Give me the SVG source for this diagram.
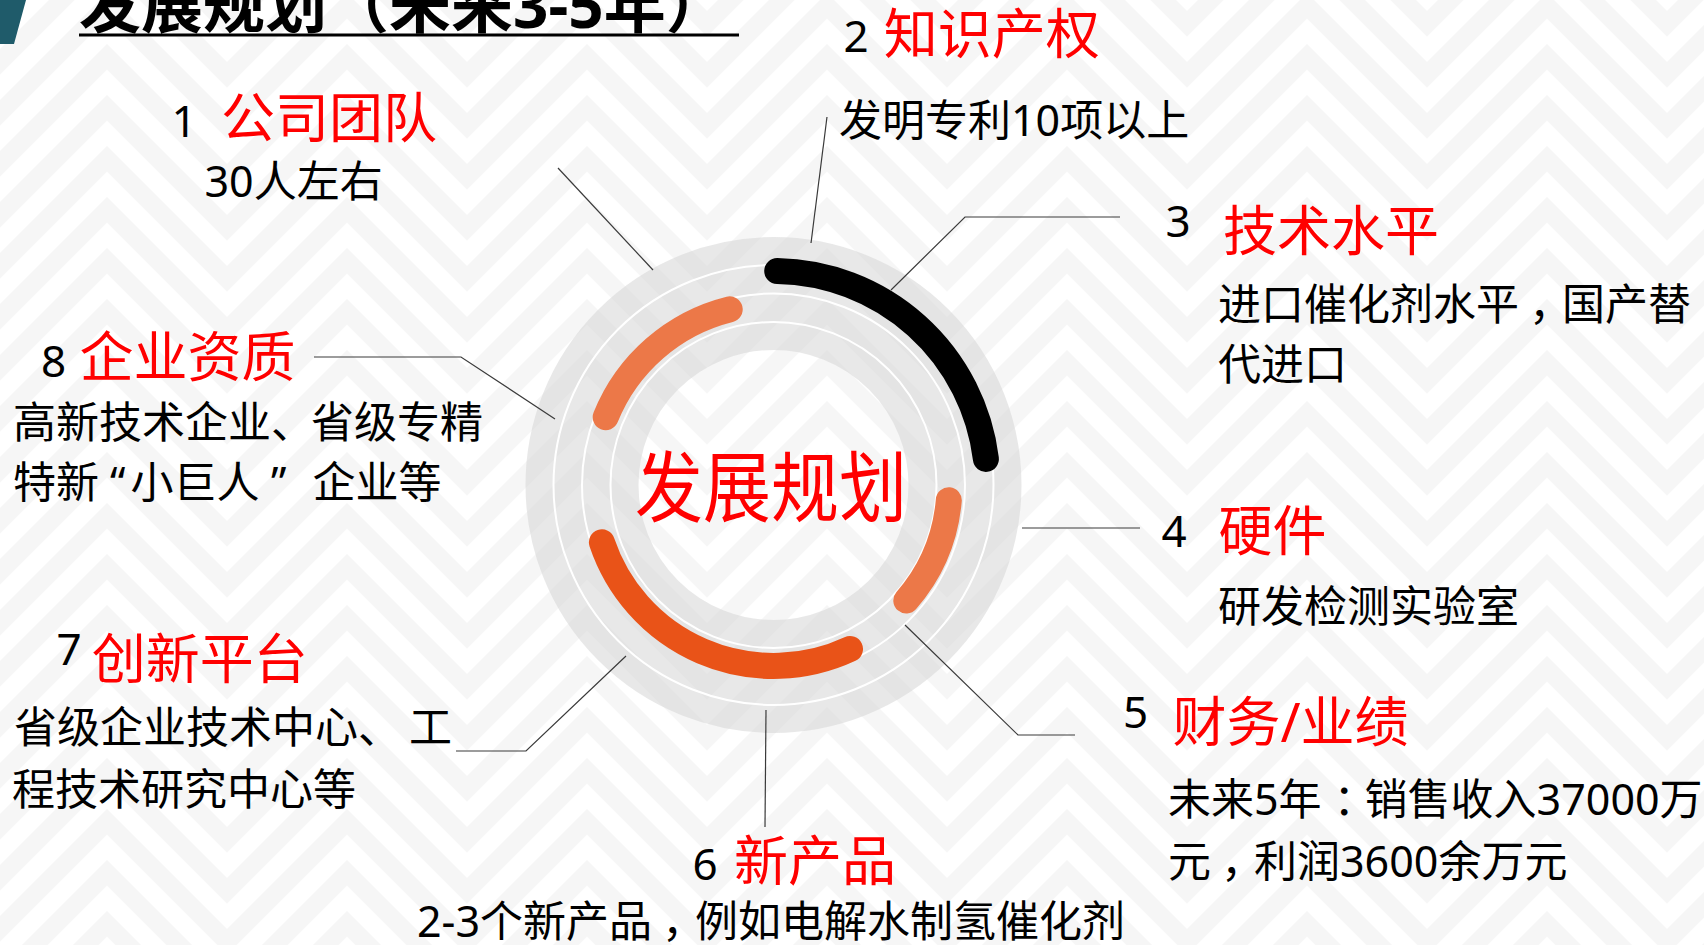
<svg xmlns="http://www.w3.org/2000/svg" width="1704" height="945" viewBox="0 0 1704 945">
<defs>
<pattern id="chev" patternUnits="userSpaceOnUse" x="-13" y="44" width="240" height="51">
<rect width="240" height="51" fill="#ffffff"/>
<path fill="#f6f6f6" d="M0 -33 L120 -153 L240 -33 L240 -7.5 L120 -127.5 L0 -7.5Z M0 18 L120 -102 L240 18 L240 43.5 L120 -76.5 L0 43.5Z M0 69 L120 -51 L240 69 L240 94.5 L120 -25.5 L0 94.5Z M0 120 L120 0 L240 120 L240 145.5 L120 25.5 L0 145.5Z M0 171 L120 51 L240 171 L240 196.5 L120 76.5 L0 196.5Z"/>
</pattern>
<style>
.f{font-family:"Noto Sans","Noto Sans CJK SC",sans-serif}
.num{font-size:44px;fill:#000;text-anchor:middle}
.ttl{font-size:54px;fill:#ff0000;text-anchor:middle}
.body{font-size:43px;fill:#000}
.conn{fill:none;stroke:#3a3a3a;stroke-width:1.2}
.arc{fill:none;stroke-width:26;stroke-linecap:round}
.wl{fill:none;stroke:#ffffff;stroke-width:2}
</style>
</defs>
<rect width="1704" height="945" fill="url(#chev)"/>
<g id="title">
<polygon points="0,0 26,0 14,44 0,44" fill="#1f5b6a"/>
<text class="f" x="79" y="28" font-size="62" font-weight="700" fill="#000">发展规划（未来3-5年）</text>
<line x1="79" y1="35" x2="739" y2="35" stroke="#000" stroke-width="3"/>
</g>
<g id="ring">
<circle cx="773.5" cy="485" r="191.5" fill="none" stroke="#d6d6d6" stroke-opacity="0.55" stroke-width="113"/>
<circle class="wl" cx="773.5" cy="485" r="220"/>
<circle class="wl" cx="773.5" cy="485" r="191.5"/>
<circle class="wl" cx="773.5" cy="485" r="163"/>
<path class="arc" stroke="#000000" d="M777.2 271.0 A214 214 0 0 1 985.9 458.9"/>
<path class="arc" stroke="#ec7848" d="M605.7 417.2 A181 181 0 0 1 729.7 309.4"/>
<path class="arc" stroke="#ec7848" d="M948.8 500.3 A176 176 0 0 1 906.3 600.5"/>
<path class="arc" stroke="#e95318" stroke-width="27" d="M850.0 649.0 A181 181 0 0 1 601.9 542.4"/>
</g>
<g id="center">
<text class="f" x="771" y="516" font-size="77" fill="#ff0000" text-anchor="middle" textLength="272" lengthAdjust="spacingAndGlyphs">发展规划</text>
</g>
<g id="connectors" class="conn">
<path d="M558 168 L653 270"/>
<path d="M827 117 L811 243"/>
<path d="M891 290 L965 217 L1120 217"/>
<path d="M1022 528 L1140 528"/>
<path d="M905 625 L1018 735 L1075 735"/>
<path d="M766 710 L765 827"/>
<path d="M626 656 L526 751 L456 751"/>
<path d="M314 357 L461 357 L555 419"/>
</g>
<g id="node1" class="f">
<text class="num" x="184" y="137">1</text>
<text class="ttl" x="329" y="137.5">公司团队</text>
<text class="body" x="204.5" y="196.5">30人左右</text>
</g>
<g id="node2" class="f">
<text class="num" x="856" y="52">2</text>
<text class="ttl" x="991.7" y="54">知识产权</text>
<text class="body" x="839" y="136">发明专利10项以上</text>
</g>
<g id="node3" class="f">
<text class="num" x="1178" y="236.7">3</text>
<text class="ttl" x="1331" y="250.7">技术水平</text>
<text class="body" x="1218" y="320">进口催化剂水平<tspan dx="10">，</tspan><tspan dx="-10">国产替</tspan></text>
<text class="body" x="1218" y="380">代进口</text>
</g>
<g id="node4" class="f">
<text class="num" x="1174" y="546.7">4</text>
<text class="ttl" x="1272.4" y="550.7">硬件</text>
<text class="body" x="1218" y="621.6">研发检测实验室</text>
</g>
<g id="node5" class="f">
<text class="num" x="1135.6" y="728">5</text>
<text class="ttl" x="1290.5" y="742.4">财务/业绩</text>
<text class="body" x="1168" y="815">未来5年<tspan dx="12">：</tspan><tspan dx="-12">销售收入37000万</tspan></text>
<text class="body" x="1168" y="877">元<tspan dx="10">，</tspan><tspan dx="-10">利润3600余万元</tspan></text>
</g>
<g id="node6" class="f">
<text class="num" x="705" y="880">6</text>
<text class="ttl" x="815" y="881">新产品</text>
<text class="body" x="417" y="937">2-3个新产品<tspan dx="10">，</tspan><tspan dx="-10">例如电解水制氢催化剂</tspan></text>
</g>
<g id="node7" class="f">
<text class="num" x="69" y="665">7</text>
<text class="ttl" x="199.8" y="679">创新平台</text>
<text class="body" x="14" y="743">省级企业技术中心、<tspan x="409">工</tspan></text>
<text class="body" x="12" y="805">程技术研究中心等</text>
</g>
<g id="node8" class="f">
<text class="num" x="53.6" y="376.7">8</text>
<text class="ttl" x="187.5" y="377.4">企业资质</text>
<text class="body" x="13" y="438">高新技术企业、<tspan x="311">省级专精</tspan></text>
<text class="body" x="13" y="498">特新<tspan x="110">“</tspan><tspan x="130.5">小巨人</tspan><tspan x="271">”</tspan><tspan x="312.5">企业等</tspan></text>
</g>
</svg>
